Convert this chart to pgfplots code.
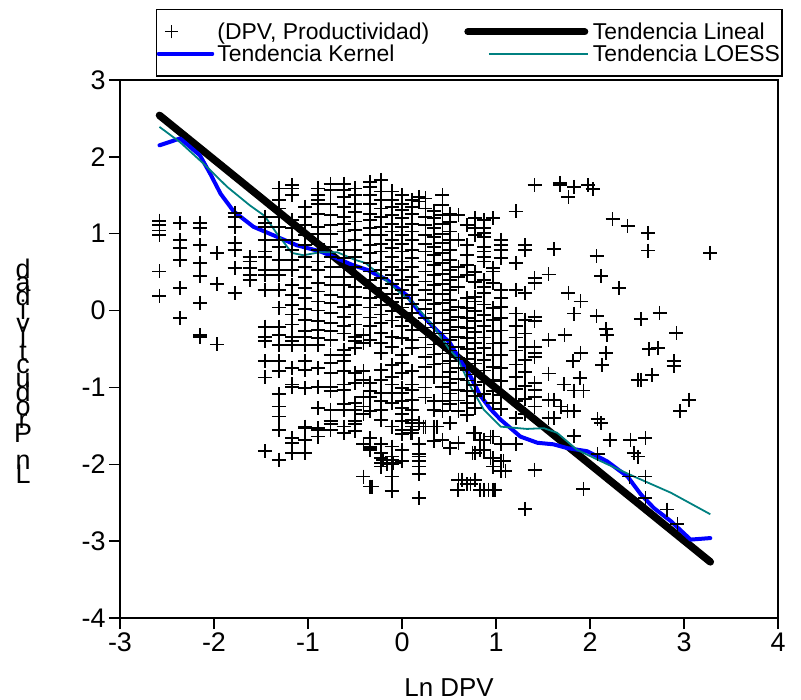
\documentclass[border=0pt]{standalone}
\usepackage{pgfplots}
\pgfplotsset{compat=1.18}
\usepackage{fontspec}
\setmainfont{Liberation Sans}
\definecolor{kblue}{RGB}{0,0,255}
\definecolor{lteal}{RGB}{0,128,128}
\newcommand{\stk}[1]{\hbox to 0pt{\hss#1\hss}}
\newcommand{\stacklabel}{\vbox{\baselineskip=13.7bp\lineskiplimit=-1000pt\lineskip=0pt
\stk{d}\stk{a}\stk{d}\stk{i}\stk{v}\stk{i}\stk{t}\stk{c}\stk{u}\stk{d}\stk{o}\stk{r}\stk{P}\stk{}\stk{n}\stk{L}}}
\begin{document}
\begin{tikzpicture}
\begin{axis}[name=main,
 scale only axis, width=658bp, height=538bp,
 xmin=-3,xmax=4,ymin=-4,ymax=3,
 xtick={-3,-2,-1,0,1,2,3,4}, ytick={-4,-3,-2,-1,0,1,2,3},
 tick pos=left, tick align=outside, major tick length=11bp,
 axis line style={line width=1.5bp},
 every tick/.style={black,line width=1.5bp},
 tick label style={font=\fontsize{27}{27}\selectfont},
 /pgf/number format/assume math mode=true,
 xlabel={Ln DPV},
 xlabel style={font=\fontsize{26}{26}\selectfont, at={(axis description cs:0.5,-0.1450)}, anchor=base},
 ylabel={\stacklabel},
 ylabel style={font=\fontsize{27}{27}\selectfont, at={(axis description cs:-0.1474,0.459)}, anchor=center, rotate=-90},
 legend columns=2,
 legend style={at={(axis description cs:0.0547,1.132)}, anchor=north west, draw=black, line width=1.5bp,
   font=\fontsize{23}{25}\selectfont, inner xsep=0bp, inner ysep=11bp,
   /tikz/every even column/.append style={column sep=33bp}},
 legend cell align=left,
]
\addplot[only marks, mark=+, mark size=7bp, mark options={line width=1.7bp, black},
 legend image code/.code={\path[draw=none] (0bp,-6bp) rectangle (57bp,6bp); \draw[black,line width=1.2bp] (6.5bp,0bp) -- (19.5bp,0bp) (13bp,-6.5bp) -- (13bp,6.5bp);}]
coordinates {
(-2.58,1.17)(-2.58,1.11)(-2.58,1.04)(-2.58,0.98)(-2.58,0.51)(-2.58,0.19)
(-2.36,1.14)(-2.36,0.92)(-2.36,0.81)(-2.36,0.66)(-2.36,0.29)(-2.36,-0.10)
(-2.15,1.14)(-2.15,1.07)(-2.15,0.85)(-2.15,0.62)(-2.15,0.45)(-2.15,0.10)(-2.15,-0.32)(-2.15,-0.34)
(-1.97,0.75)(-1.97,0.35)(-1.97,-0.44)
(-1.78,1.27)(-1.78,1.22)(-1.78,1.09)(-1.78,0.88)(-1.78,0.79)(-1.78,0.55)(-1.78,0.23)
(-1.62,0.70)(-1.62,0.64)(-1.62,0.55)(-1.62,0.46)(-1.62,0.40)
(-1.46,1.22)(-1.46,1.14)(-1.46,1.09)(-1.46,0.92)(-1.46,0.77)(-1.46,0.70)(-1.46,0.53)(-1.46,0.46)(-1.46,0.27)(-1.46,-0.21)(-1.46,-0.34)(-1.46,-0.40)(-1.46,-0.66)(-1.46,-0.87)(-1.46,-1.83)
(-1.31,1.59)(-1.31,1.44)(-1.31,1.33)(-1.31,1.22)(-1.31,1.09)(-1.31,0.92)(-1.31,0.83)(-1.31,0.66)(-1.31,0.53)(-1.31,0.46)(-1.31,0.27)(-1.31,0.04)(-1.31,-0.21)(-1.31,-0.32)(-1.31,-0.45)(-1.31,-0.66)(-1.31,-0.79)(-1.31,-1.09)(-1.31,-1.25)(-1.31,-1.38)(-1.31,-1.55)(-1.31,-1.94)
(-1.17,1.63)(-1.17,1.59)(-1.17,1.50)(-1.17,1.18)(-1.17,1.07)(-1.17,0.92)(-1.17,0.79)(-1.17,0.66)(-1.17,0.53)(-1.17,0.33)(-1.17,0.20)(-1.17,0.07)(-1.17,-0.05)(-1.17,-0.18)(-1.17,-0.34)(-1.17,-0.40)(-1.17,-0.45)(-1.17,-0.75)(-1.17,-0.96)(-1.17,-0.99)(-1.17,-1.66)(-1.17,-1.72)(-1.17,-1.85)
(-1.03,1.35)(-1.03,1.22)(-1.03,1.11)(-1.03,0.98)(-1.03,0.85)(-1.03,0.70)(-1.03,0.57)(-1.03,0.44)(-1.03,0.29)(-1.03,0.16)(-1.03,0.02)(-1.03,-0.12)(-1.03,-0.27)(-1.03,-0.34)(-1.03,-0.45)(-1.03,-0.66)(-1.03,-0.77)(-1.03,-1.01)(-1.03,-1.51)(-1.03,-1.53)(-1.03,-1.68)(-1.03,-1.85)
(-0.89,1.59)(-0.89,1.50)(-0.89,1.44)(-0.89,1.39)(-0.89,1.26)(-0.89,1.09)(-0.89,1.00)(-0.89,0.87)(-0.89,0.79)(-0.89,0.64)(-0.89,0.53)(-0.89,0.36)(-0.89,0.25)(-0.89,0.12)(-0.89,0.00)(-0.89,-0.14)(-0.89,-0.25)(-0.89,-0.36)(-0.89,-0.45)(-0.89,-0.75)(-0.89,-0.99)(-0.89,-1.27)(-0.89,-1.53)(-0.89,-1.55)(-0.89,-1.64)
(-0.76,1.65)(-0.76,1.57)(-0.76,1.39)(-0.76,1.24)(-0.76,1.11)(-0.76,1.00)(-0.76,0.83)(-0.76,0.70)(-0.76,0.57)(-0.76,0.44)(-0.76,0.33)(-0.76,0.20)(-0.76,0.10)(-0.76,-0.03)(-0.76,-0.16)(-0.76,-0.27)(-0.76,-0.38)(-0.76,-0.58)(-0.76,-0.68)(-0.76,-0.81)(-0.76,-0.99)(-0.76,-1.05)(-0.76,-1.29)(-0.76,-1.44)(-0.76,-1.48)(-0.76,-1.55)
(-0.62,1.65)(-0.62,1.57)(-0.62,1.48)(-0.62,1.35)(-0.62,1.22)(-0.62,1.13)(-0.62,1.03)(-0.62,0.90)(-0.62,0.79)(-0.62,0.68)(-0.62,0.57)(-0.62,0.44)(-0.62,0.33)(-0.62,0.18)(-0.62,0.05)(-0.62,-0.08)(-0.62,-0.20)(-0.62,-0.30)(-0.62,-0.51)(-0.62,-0.58)(-0.62,-0.66)(-0.62,-0.79)(-0.62,-0.96)(-0.62,-1.03)(-0.62,-1.22)(-0.62,-1.29)(-0.62,-1.51)(-0.62,-1.59)
(-0.50,1.59)(-0.50,1.50)(-0.50,1.39)(-0.50,1.28)(-0.50,1.16)(-0.50,1.05)(-0.50,0.92)(-0.50,0.79)(-0.50,0.70)(-0.50,0.57)(-0.50,0.44)(-0.50,0.31)(-0.50,0.18)(-0.50,0.07)(-0.50,-0.05)(-0.50,-0.18)(-0.50,-0.34)(-0.50,-0.40)(-0.50,-0.49)(-0.50,-0.81)(-0.50,-0.94)(-0.50,-1.20)(-0.50,-1.29)(-0.50,-1.44)(-0.50,-1.48)(-0.50,-1.57)
(-0.41,-0.32)(-0.41,-0.42)(-0.41,-0.79)(-0.41,-0.90)(-0.41,-1.12)(-0.41,-1.25)(-0.41,-1.35)(-0.41,-1.74)(-0.41,-2.16)
(-0.34,1.67)(-0.34,1.61)(-0.34,1.50)(-0.34,1.39)(-0.34,1.26)(-0.34,1.18)(-0.34,1.07)(-0.34,0.98)(-0.34,0.85)(-0.34,0.75)(-0.34,0.62)(-0.34,0.51)(-0.34,0.40)(-0.34,0.29)(-0.34,0.16)(-0.34,0.04)(-0.34,-0.09)(-0.34,-0.20)(-0.34,-0.38)(-0.34,-0.94)(-0.34,-1.05)(-0.34,-1.12)(-0.34,-1.31)(-0.34,-1.66)(-0.34,-1.77)(-0.34,-1.79)(-0.34,-1.81)(-0.34,-2.29)
(-0.22,1.70)(-0.22,1.55)(-0.22,1.44)(-0.22,1.33)(-0.22,1.22)(-0.22,1.09)(-0.22,0.98)(-0.22,0.87)(-0.22,0.77)(-0.22,0.64)(-0.22,0.53)(-0.22,0.42)(-0.22,0.29)(-0.22,0.18)(-0.22,0.07)(-0.22,-0.05)(-0.22,-0.16)(-0.22,-0.29)(-0.22,-0.42)(-0.22,-0.55)(-0.22,-0.77)(-0.22,-0.90)(-0.22,-1.07)(-0.22,-1.18)(-0.22,-1.29)(-0.22,-1.42)(-0.22,-1.74)(-0.22,-1.85)(-0.22,-1.92)(-0.22,-1.98)(-0.22,-2.03)
(-0.11,1.55)(-0.11,1.44)(-0.11,1.35)(-0.11,1.24)(-0.11,1.13)(-0.11,1.03)(-0.11,0.92)(-0.11,0.81)(-0.11,0.70)(-0.11,0.57)(-0.11,0.46)(-0.11,0.35)(-0.11,0.22)(-0.11,0.11)(-0.11,-0.01)(-0.11,-0.13)(-0.11,-0.34)(-0.11,-0.47)(-0.11,-0.71)(-0.11,-0.86)(-0.11,-0.96)(-0.11,-1.07)(-0.11,-1.20)(-0.11,-1.51)(-0.11,-1.77)(-0.11,-1.90)(-0.11,-1.94)(-0.11,-2.00)(-0.11,-2.16)(-0.11,-2.35)
(0.00,1.50)(0.00,1.39)(0.00,1.31)(0.00,1.20)(0.00,1.09)(0.00,0.98)(0.00,0.87)(0.00,0.77)(0.00,0.64)(0.00,0.53)(0.00,0.40)(0.00,0.27)(0.00,0.16)(0.00,0.04)(0.00,-0.08)(0.00,-0.20)(0.00,-0.36)(0.00,-0.58)(0.00,-0.68)(0.00,-0.81)(0.00,-1.01)(0.00,-1.07)(0.00,-1.18)(0.00,-1.27)(0.00,-1.35)(0.00,-1.44)(0.00,-1.55)(0.00,-1.61)(0.00,-1.81)(0.00,-1.96)
(0.11,1.44)(0.11,1.35)(0.11,1.26)(0.11,1.13)(0.11,1.03)(0.11,0.92)(0.11,0.79)(0.11,0.68)(0.11,0.57)(0.11,0.44)(0.11,0.33)(0.11,0.20)(0.11,0.09)(0.11,-0.03)(0.11,-0.14)(0.11,-0.25)(0.11,-0.38)(0.11,-0.49)(0.11,-0.79)(0.11,-0.96)(0.11,-1.03)(0.11,-1.16)(0.11,-1.29)(0.11,-1.42)(0.11,-1.46)(0.11,-1.51)(0.11,-1.55)(0.11,-1.59)
(0.18,1.48)(0.18,1.42)(0.18,-1.46)(0.18,-1.74)(0.18,-1.87)(0.18,-1.90)(0.18,-1.96)(0.18,-2.03)(0.18,-2.13)(0.18,-2.44)
(0.25,1.46)(0.25,1.33)(0.25,1.22)(0.25,1.11)(0.25,0.98)(0.25,0.87)(0.25,0.77)(0.25,0.64)(0.25,0.51)(0.25,0.38)(0.25,0.27)(0.25,0.14)(0.25,0.02)(0.25,-0.10)(0.25,-0.22)(0.25,-0.35)(0.25,-0.48)(0.25,-0.60)(0.25,-0.73)(0.25,-0.86)(0.25,-1.00)(0.25,-1.13)(0.25,-1.51)
(0.34,1.30)(0.34,1.20)(0.34,1.07)(0.34,0.96)(0.34,0.83)(0.34,0.72)(0.34,0.59)(0.34,0.46)(0.34,0.33)(0.34,0.22)(0.34,0.09)(0.34,-0.04)(0.34,-0.17)(0.34,-0.30)(0.34,-0.44)(0.34,-0.57)(0.34,-0.70)(0.34,-0.86)(0.34,-1.18)(0.34,-1.29)(0.34,-1.51)(0.34,-1.70)
(0.43,1.50)(0.43,1.37)(0.43,1.24)(0.43,1.13)(0.43,1.00)(0.43,0.88)(0.43,0.75)(0.43,0.62)(0.43,0.48)(0.43,0.35)(0.43,0.22)(0.43,0.10)(0.43,-0.03)(0.43,-0.16)(0.43,-0.30)(0.43,-0.43)(0.43,-0.56)(0.43,-0.69)(0.43,-0.86)(0.43,-0.99)(0.43,-1.18)(0.43,-1.31)(0.43,-1.68)
(0.51,1.26)(0.51,1.15)(0.51,1.03)(0.51,0.92)(0.51,0.79)(0.51,0.66)(0.51,0.53)(0.51,0.40)(0.51,0.27)(0.51,0.14)(0.51,0.01)(0.51,-0.12)(0.51,-0.25)(0.51,-0.38)(0.51,-0.52)(0.51,-0.66)(0.51,-0.80)(0.51,-0.94)(0.51,-1.08)(0.51,-1.22)(0.51,-1.46)(0.51,-1.79)
(0.60,1.24)(0.60,0.92)(0.60,0.57)(0.60,0.44)(0.60,0.31)(0.60,0.05)(0.60,-0.08)(0.60,-0.21)(0.60,-0.34)(0.60,-0.47)(0.60,-0.61)(0.60,-0.75)(0.60,-0.89)(0.60,-1.03)(0.60,-1.17)(0.60,-1.31)(0.60,-1.72)(0.60,-2.20)(0.60,-2.33)
(0.69,1.11)(0.69,0.85)(0.69,0.72)(0.69,0.59)(0.69,0.46)(0.69,0.16)(0.69,0.03)(0.69,-0.10)(0.69,-0.23)(0.69,-0.36)(0.69,-0.50)(0.69,-0.63)(0.69,-0.77)(0.69,-0.91)(0.69,-1.05)(0.69,-1.20)(0.69,-1.36)(0.69,-2.26)
(0.78,1.20)(0.78,1.07)(0.78,0.98)(0.78,0.50)(0.78,0.37)(0.78,0.18)(0.78,0.12)(0.78,-0.01)(0.78,-0.14)(0.78,-0.28)(0.78,-0.42)(0.78,-0.55)(0.78,-0.69)(0.78,-0.83)(0.78,-0.97)(0.78,-1.11)(0.78,-1.27)(0.78,-1.59)(0.78,-1.85)(0.78,-2.20)
(0.87,1.18)(0.87,1.07)(0.87,1.01)(0.87,0.96)(0.87,0.83)(0.87,0.77)(0.87,0.70)(0.87,0.64)(0.87,0.40)(0.87,0.31)(0.87,0.23)(0.87,0.08)(0.87,-0.06)(0.87,-0.20)(0.87,-0.35)(0.87,-0.49)(0.87,-0.64)(0.87,-0.78)(0.87,-0.93)(0.87,-1.09)(0.87,-1.68)(0.87,-1.81)(0.87,-2.33)
(0.97,1.20)(0.97,0.55)(0.97,0.51)(0.97,0.36)(0.97,0.03)(0.97,-0.12)(0.97,-0.27)(0.97,-0.43)(0.97,-0.58)(0.97,-0.73)(0.97,-0.90)(0.97,-1.05)(0.97,-1.20)(0.97,-1.64)(0.97,-1.92)(0.97,-2.03)(0.97,-2.33)
(1.05,0.92)(1.05,0.85)(1.05,0.79)(1.05,0.68)(1.05,0.27)(1.05,0.16)(1.05,0.05)(1.05,-0.10)(1.05,-0.26)(1.05,-0.42)(1.05,-0.58)(1.05,-0.75)(1.05,-0.92)(1.05,-1.10)(1.05,-1.28)(1.05,-1.74)(1.05,-1.96)(1.05,-2.09)
(1.21,1.29)(1.21,0.62)(1.21,0.27)(1.21,-0.04)(1.21,-0.20)(1.21,-0.35)(1.21,-0.52)(1.21,-0.70)(1.21,-0.86)(1.21,-1.02)(1.21,-1.18)(1.21,-1.40)(1.21,-1.74)
(1.31,0.85)(1.31,0.79)(1.31,0.23)(1.31,-0.12)(1.31,-0.30)(1.31,-0.47)(1.31,-0.64)(1.31,-0.80)(1.31,-0.98)(1.31,-1.15)(1.31,-1.35)(1.31,-2.58)
(1.41,1.63)(1.41,0.42)(1.41,0.36)(1.41,-0.08)(1.41,-0.14)(1.41,-0.47)(1.41,-0.55)(1.41,-0.60)(1.41,-0.94)(1.41,-1.03)(1.41,-1.12)(1.41,-1.25)(1.41,-2.07)
(1.56,0.47)(1.56,-0.38)(1.56,-0.82)(1.56,-1.16)(1.56,-1.40)
(1.68,1.66)(1.68,1.63)(1.83,1.61)(1.77,1.48)(1.98,1.63)(2.03,1.58)(2.24,1.19)(2.40,1.10)(2.62,1.01)(2.62,0.78)(3.28,0.75)
(1.62,0.80)(2.07,0.71)(2.12,0.45)(2.31,0.29)(1.77,0.23)(1.90,0.12)(1.83,-0.04)(2.07,-0.07)(2.54,-0.11)(2.74,-0.03)
(2.92,-0.29)(2.17,-0.24)(2.18,-0.32)(1.73,-0.32)(2.63,-0.50)(2.72,-0.49)(1.90,-0.55)(2.17,-0.55)(2.89,-0.66)(2.89,-0.72)
(2.66,-0.84)(2.51,-0.90)(2.54,-0.90)(3.05,-1.16)(2.96,-1.31)(2.13,-0.71)(1.82,-0.66)(1.89,-0.88)(1.72,-0.96)(1.83,-1.04)
(1.93,-1.04)(2.08,-1.41)(2.12,-1.46)(2.21,-1.68)(2.43,-1.68)(2.59,-1.66)(2.47,-1.85)(2.51,-1.90)(2.59,-2.16)(2.42,-2.16)
(2.59,-2.44)(2.82,-2.59)(2.93,-2.78)(1.93,-2.32)(1.83,-1.63)(2.08,-1.87)(1.62,-1.16)(1.62,-1.40)(1.69,-1.25)(1.83,-1.31)(1.76,-1.31)
(0.64,-2.20)(0.73,-2.26)(0.83,-2.33)(0.92,-2.33)(0.99,-2.33)(0.59,-2.33)(0.76,-1.59)(0.83,-1.68)(0.94,-1.64)(1.06,-1.74)
(0.09,-1.59)(0.23,-1.51)(0.37,-1.51)(0.51,-1.46)(0.75,-1.85)(0.83,-1.81)(0.94,-1.92)(1.08,-1.96)(1.10,-2.09)
(-0.20,-1.94)(-0.16,-2.00)(-0.09,-1.98)(0.00,-1.96)(-0.32,-2.29)
};
\addlegendentry{(DPV, Productividad)}
\addplot[black, line width=7.5bp, line cap=round,
 legend image code/.code={\path[draw=none] (0bp,-6bp) rectangle (126bp,6bp); \draw[black,line width=7bp,line cap=round] (3bp,0bp) -- (120bp,0bp);}]
coordinates {(-2.58,2.54)(3.28,-3.27)};
\addlegendentry{Tendencia Lineal}
\addplot[kblue, line width=4bp, line join=round, line cap=round,
 legend image code/.code={\path[draw=none] (0bp,-6bp) rectangle (57bp,6bp); \draw[kblue,line width=3.5bp] (0bp,0bp) -- (54bp,0bp);}]
coordinates {(-2.58,2.15)(-2.36,2.24)(-2.15,2.02)(-2.04,1.78)(-1.93,1.52)(-1.79,1.29)(-1.58,1.09)(-1.33,0.96)(-1.12,0.85)(-0.87,0.77)(-0.73,0.70)(-0.52,0.59)(-0.37,0.53)(-0.16,0.40)(0.05,0.20)(0.19,-0.03)(0.34,-0.22)(0.51,-0.42)(0.62,-0.65)(0.73,-0.86)(0.83,-1.10)(0.94,-1.28)(1.05,-1.42)(1.26,-1.64)(1.44,-1.72)(1.61,-1.74)(1.76,-1.79)(1.97,-1.83)(2.18,-1.96)(2.40,-2.16)(2.54,-2.39)(2.68,-2.57)(2.86,-2.74)(3.07,-2.98)(3.28,-2.96)};
\addlegendentry{Tendencia Kernel}
\addplot[lteal, line width=1.8bp, line join=round,
 legend image code/.code={\path[draw=none] (0bp,-6bp) rectangle (126bp,6bp); \draw[lteal,line width=1.8bp] (24bp,0bp) -- (123bp,0bp);}]
coordinates {(-2.58,2.39)(-2.36,2.19)(-2.11,1.91)(-1.86,1.61)(-1.62,1.37)(-1.46,1.23)(-1.33,1.00)(-1.17,0.75)(-1.05,0.72)(-0.87,0.76)(-0.69,0.76)(-0.50,0.66)(-0.39,0.62)(-0.25,0.48)(-0.02,0.23)(0.12,0.10)(0.34,-0.21)(0.50,-0.50)(0.59,-0.62)(0.73,-0.99)(0.87,-1.29)(1.05,-1.51)(1.33,-1.54)(1.51,-1.53)(1.65,-1.59)(1.86,-1.81)(2.15,-1.98)(2.47,-2.16)(2.86,-2.37)(3.28,-2.65)};
\addlegendentry{Tendencia LOESS}
\end{axis}
\pgfresetboundingbox
\path ([shift={(-120bp,-82bp)}]main.south west) rectangle ++(801bp,700bp);
\end{tikzpicture}
\end{document}
